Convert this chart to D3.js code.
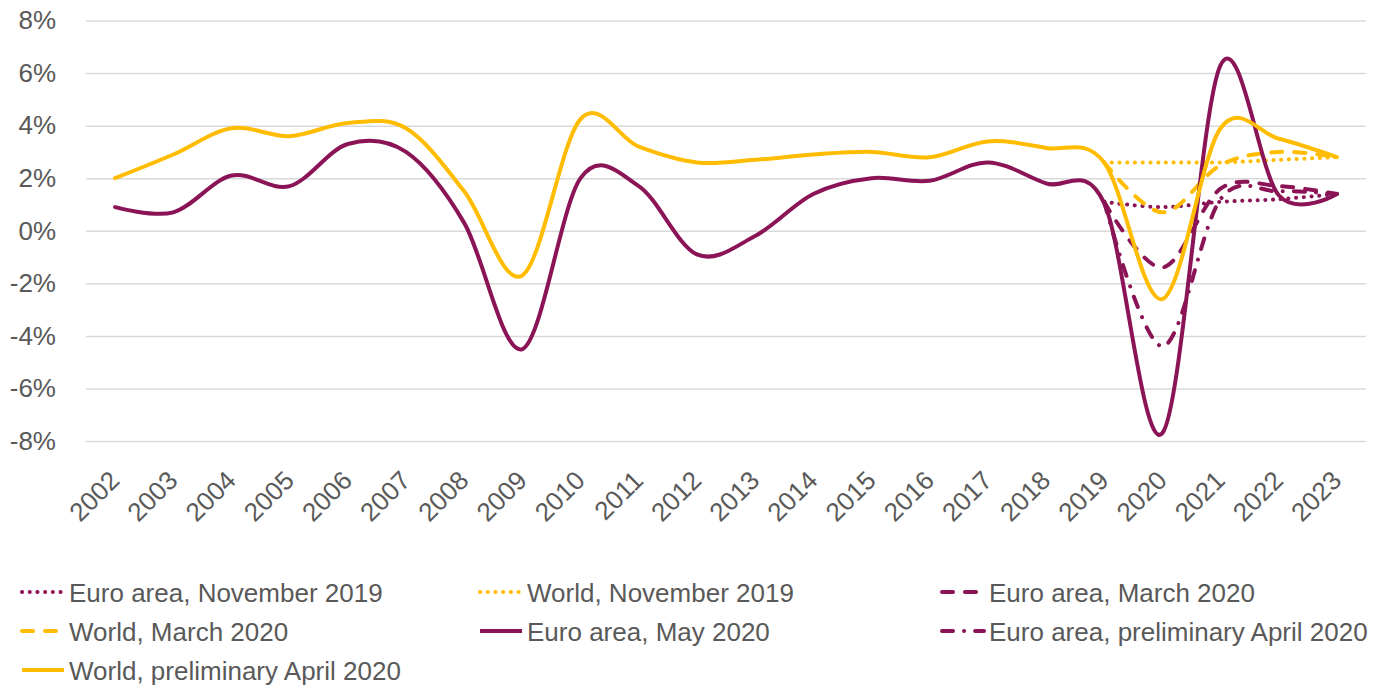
<!DOCTYPE html>
<html>
<head>
<meta charset="utf-8">
<script src="https://cdn.jsdelivr.net/npm/d3@7"></script>
<style>
  body { margin: 0; background: #fff; }
  text { font-family: "Liberation Sans", Arial, sans-serif; fill: #595959; }
</style>
</head>
<body>
<script>
// years on the category axis
let years = ["2002", "2003", "2004", "2005", "2006", "2007", "2008", "2009", "2010", "2011", "2012",
             "2013", "2014", "2015", "2016", "2017", "2018", "2019", "2020", "2021", "2022", "2023"];
let yTicks = [-8, -6, -4, -2, 0, 2, 4, 6, 8];

let euroMay2020 = [0.9, 0.7, 2.1, 1.7, 3.3, 3.0, 0.3, -4.5, 2.0, 1.7, -0.9, -0.2, 1.4, 2.0, 1.9, 2.6, 1.8, 1.05, -7.7, 6.3, 1.35, 1.4];
let worldApr2020 = [2.0, 2.9, 3.9, 3.6, 4.1, 3.9, 1.5, -1.7, 4.25, 3.2, 2.6, 2.7, 2.9, 3.0, 2.8, 3.4, 3.15, 2.6, -2.6, 3.9, 3.5, 2.8];
// projection vintages only cover 2019-2023
let projYears = ["2019", "2020", "2021", "2022", "2023"];
let euroNov2019 = [1.1, 0.9, 1.1, 1.2, 1.4];
let worldNov2019 = [2.6, 2.6, 2.6, 2.7, 2.8];
let euroMar2020 = [1.1, -1.4, 1.6, 1.7, 1.4];
let worldMar2020 = [2.6, 0.7, 2.5, 3.0, 2.8];
let euroApr2020 = [1.1, -4.4, 1.2, 1.5, 1.4];

let purple = "#8a1456";
let yellow = "#ffbc00";

let series = [
    { name: "Euro area, November 2019", x: projYears, v: euroNov2019, color: purple, dash: "0.1 7.6" },
    { name: "World, November 2019", x: projYears, v: worldNov2019, color: yellow, dash: "0.1 7.6" },
    { name: "Euro area, March 2020", x: projYears, v: euroMar2020, color: purple, dash: "11 12" },
    { name: "World, March 2020", x: projYears, v: worldMar2020, color: yellow, dash: "11 12" },
    { name: "Euro area, May 2020", x: years, v: euroMay2020, color: purple, dash: null },
    { name: "Euro area, preliminary April 2020", x: projYears, v: euroApr2020, color: purple, dash: "11 11 0.1 11" },
    { name: "World, preliminary April 2020", x: years, v: worldApr2020, color: yellow, dash: null }
];

let svg = d3.select("body").append("svg")
    .attr("width", 1383)
    .attr("height", 688);

let x = d3.scaleBand()
    .domain(years)
    .range([86, 1366]);

let y = d3.scaleLinear()
    .domain([-8, 8])
    .range([441, 20.5]);

// y axis + grid
let yAxis = svg.append("g")
    .attr("transform", "translate(86,0)")
    .call(d3.axisLeft(y)
        .tickValues(yTicks)
        .tickSize(-(1366 - 86))
        .tickPadding(30)
        .tickFormat(d => d + "%"));
yAxis.select(".domain").remove();
yAxis.selectAll("line").attr("stroke", "#d9d9d9").attr("stroke-width", 1.5);
yAxis.selectAll("text")
    .attr("font-size", 26)
    .attr("fill", "#595959")
    .style("font-family", "Liberation Sans, Arial, sans-serif");

// x axis labels, rotated
let xAxis = svg.append("g")
    .attr("transform", "translate(0,441)")
    .call(d3.axisBottom(x).tickSize(0).tickPadding(0));
xAxis.select(".domain").remove();
xAxis.selectAll("text")
    .attr("font-size", 26)
    .attr("fill", "#595959")
    .style("font-family", "Liberation Sans, Arial, sans-serif")
    .attr("text-anchor", "end")
    .attr("dy", null)
    .attr("y", 0)
    .attr("transform", "translate(6,41) rotate(-45)");

// lines
let line = d3.line()
    .curve(d3.curveCardinal.tension(0));

series.forEach(s => {
    let pts = s.x.map((yr, i) => [x(yr) + x.bandwidth() / 2, y(s.v[i])]);
    svg.append("path")
        .datum(pts)
        .attr("d", line)
        .attr("fill", "none")
        .attr("stroke", s.color)
        .attr("stroke-width", 4)
        .attr("stroke-linecap", "round")
        .attr("stroke-dasharray", s.dash);
});

// legend, 3 columns
let colX = [20, 478, 940];
let rowY = [592, 631, 670];

series.forEach((s, i) => {
    let lx = colX[i % 3];
    let ly = rowY[Math.floor(i / 3)];
    let g = svg.append("g").attr("transform", `translate(${lx},${ly})`);
    g.append("line")
        .attr("x1", 2)
        .attr("x2", 44)
        .attr("y1", 0)
        .attr("y2", 0)
        .attr("stroke", s.color)
        .attr("stroke-width", 4)
        .attr("stroke-linecap", s.dash ? "round" : "butt")
        .attr("stroke-dasharray", s.dash);
    g.append("text")
        .attr("x", 49)
        .attr("y", 10)
        .attr("font-size", 26)
        .text(s.name);
});
</script>
</body>
</html>
